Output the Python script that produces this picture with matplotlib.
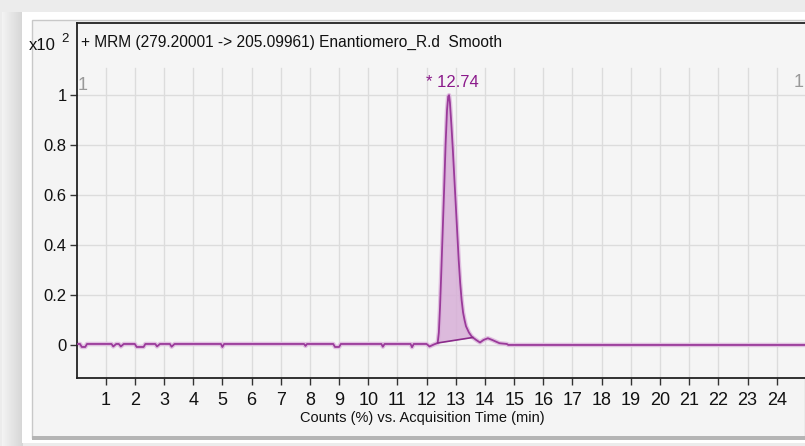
import numpy as np
import matplotlib.pyplot as plt
from matplotlib.patches import Rectangle

plt.rcParams['font.family'] = ['Liberation Sans', 'DejaVu Sans']

# retention time (min) and counts (x10^2)
time = [0.00, 0.12, 0.18, 0.30, 0.36, 1.20, 1.26, 1.36, 1.45, 1.52,
        1.62, 2.00, 2.06, 2.30, 2.36, 2.70, 2.76, 2.86, 3.20, 3.26,
        3.36, 4.95, 5.00, 5.06, 7.80, 7.85, 7.90, 8.80, 8.86, 9.00,
        9.06, 10.45, 10.50, 10.56, 11.45, 11.50, 11.56, 12.00, 12.10, 12.25,
        12.38, 12.42, 12.46, 12.50, 12.55, 12.60, 12.65, 12.70, 12.74, 12.77,
        12.80, 12.85, 12.90, 12.95, 13.00, 13.05, 13.10, 13.15, 13.20, 13.25,
        13.30, 13.35, 13.45, 13.55, 13.70, 13.83, 13.95, 14.10, 14.25, 14.50,
        14.75, 14.80, 25.00]
counts = [0.004, 0.004, -0.008, -0.008, 0.004, 0.004, -0.006, 0.004, 0.004, -0.006,
          0.004, 0.004, -0.008, -0.008, 0.004, 0.004, -0.006, 0.004, 0.004, -0.007,
          0.004, 0.004, -0.008, 0.004, 0.004, -0.004, 0.004, 0.004, -0.008, -0.008,
          0.004, 0.004, -0.007, 0.004, 0.004, -0.009, 0.004, 0.004, -0.006, 0.002,
          0.008, 0.050, 0.150, 0.280, 0.450, 0.620, 0.800, 0.940, 0.995, 1.000,
          0.970, 0.880, 0.780, 0.670, 0.560, 0.450, 0.340, 0.250, 0.180, 0.130,
          0.100, 0.075, 0.050, 0.033, 0.020, 0.010, 0.020, 0.027, 0.020, 0.007,
          0.004, 0.000, 0.000]

peak_rt = "12.74"
base_start, base_end = 12.38, 13.58
base_y = [0.008, 0.030]

t = np.array(time)
c = np.array(counts)

W, H = 805, 446
fig = plt.figure(figsize=(W / 100, H / 100), dpi=100)
fig.patch.set_facecolor('#ececec')

# panel frame
bg = fig.add_axes([0, 0, 1, 1], zorder=-5)
bg.set_xlim(0, W)
bg.set_ylim(H, 0)
bg.axis('off')
grad = np.linspace(0.95, 0.84, 20)[None, :]
bg.imshow(np.repeat(grad, 10, axis=0), cmap='gray', vmin=0, vmax=1,
          extent=(2, 22, 446, 12), aspect='auto')
bg.add_patch(Rectangle((22, 12), W - 22, 431, facecolor='white', edgecolor='none'))
bg.add_patch(Rectangle((32, 20), W - 32, 418, facecolor='#f4f4f4', edgecolor='#c8c8c8', lw=1))
bg.add_patch(Rectangle((32, 436), W - 32, 4, facecolor='#b4b4b4', edgecolor='none'))

x0, x1 = 76.5, 805
y0, y1 = 377.7, 22.7
ax = fig.add_axes([x0 / W, 1 - y0 / H, (x1 - x0) / W, (y0 - y1) / H])
ax.set_facecolor('#f5f5f5')
ax.set_xlim(0, 24.97)
ax.set_ylim(-0.131, 1.29)

for v in range(1, 25):
    ax.plot([v, v], [-0.131, 1.108], color='#dcdcdc', lw=1, zorder=1)
for v in np.arange(0, 1.01, 0.2):
    ax.axhline(v, color='#dcdcdc', lw=1, zorder=1)

ax.plot(t, c, color='#e0c0e0', lw=3.2, zorder=2, solid_capstyle='round')
ax.plot(t, c, color='#9a3a9a', lw=1.3, zorder=3)

m = (t >= base_start) & (t <= base_end)
tf = np.concatenate([[base_start], t[m], [base_end]])
cf = np.interp(tf, t, c)
bl = np.interp(tf, [base_start, base_end], base_y)
ax.fill_between(tf, bl, cf, color='#d8b0d8', alpha=0.85, zorder=2, lw=0)
ax.plot([base_start, base_end], base_y, color='#8a2a8a', lw=1.2, zorder=3)

ax.text(12.87, 1.05, "* " + peak_rt, color='#8b1a8b', fontsize=12,
        ha='center', va='center', zorder=4)
ax.text(0.22, 1.04, "1", color='#999999', fontsize=13, ha='center', va='center')
ax.text(24.75, 1.05, "1", color='#999999', fontsize=13, ha='center', va='center')
ax.text(0.15, 1.21, "+ MRM (279.20001 -> 205.09961) Enantiomero_R.d  Smooth",
        fontsize=11.2, ha='left', va='center', color='#111111')

ax.set_xticks(range(1, 25))
ax.set_yticks([0, 0.2, 0.4, 0.6, 0.8, 1.0])
ax.set_yticklabels(['0', '0.2', '0.4', '0.6', '0.8', '1'])
ax.tick_params(axis='both', direction='out', length=5, width=1, color='#333333',
               labelcolor='#111111')
ax.tick_params(axis='x', pad=5, labelsize=13)
ax.tick_params(axis='y', pad=2, labelsize=12)
for s in ['left', 'bottom', 'top']:
    ax.spines[s].set_color('#222222')
    ax.spines[s].set_linewidth(1.3)
ax.spines['right'].set_visible(False)

fig.text(422 / W, 1 - 418 / H, "Counts (%) vs. Acquisition Time (min)",
         fontsize=10.5, ha='center', va='center', color='#111111')
fig.text(42 / W, 1 - 46 / H, "x10", fontsize=12, ha='center', va='center', color='#111111')
fig.text(65 / W, 1 - 39 / H, "2", fontsize=9.5, ha='center', va='center', color='#111111')

fig.savefig('out.png', dpi=100, facecolor=fig.get_facecolor())
